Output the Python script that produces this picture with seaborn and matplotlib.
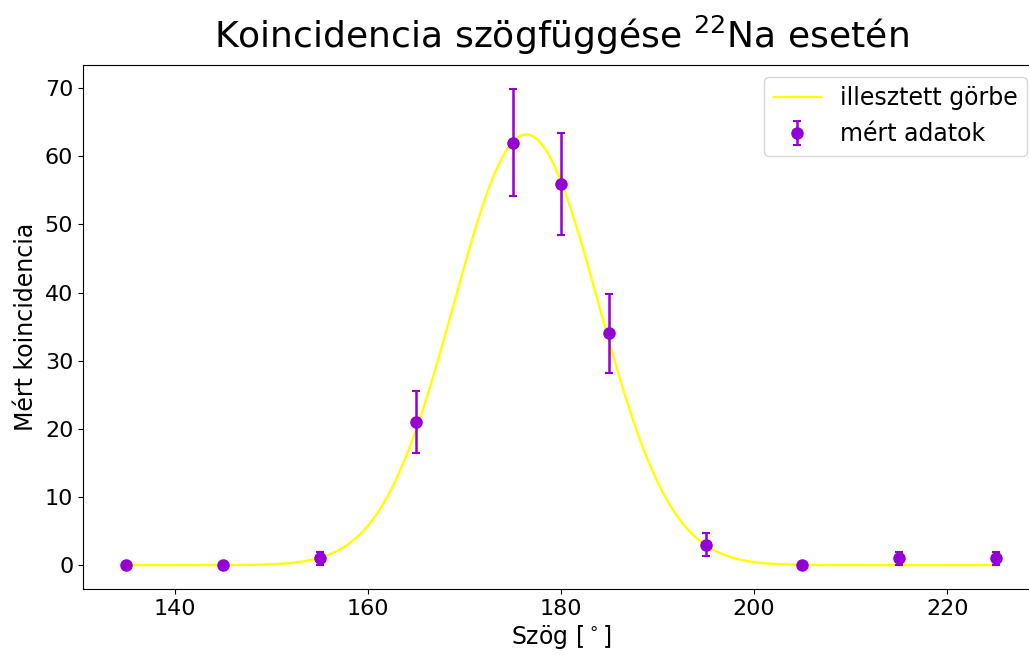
import numpy as np
import pandas as pd
import matplotlib
matplotlib.use("Agg")
import matplotlib.pyplot as plt
import seaborn as sns

# measured data
angles = [135, 145, 155, 165, 175, 180, 185, 195, 205, 215, 225]
counts = [0, 0, 1, 21, 62, 56, 34, 3, 0, 1, 1]
errors = [0.0, 0.0, 1.0, 4.58, 7.87, 7.48, 5.83, 1.73, 0.0, 1.0, 1.0]

# fitted Gaussian parameters
fit_amplitude = 63.2
fit_center = 176.4
fit_sigma = 7.5

fit_x = np.linspace(min(angles), max(angles), 500)
fit_y = fit_amplitude * np.exp(-(fit_x - fit_center) ** 2 / (2 * fit_sigma ** 2))
fit_df = pd.DataFrame({"x": fit_x, "y": fit_y})

W, H = 1029, 655
fig = plt.figure(figsize=(W / 100, H / 100), dpi=100)
ax = fig.add_axes([83 / W, (H - 589) / H, (1039 - 83) / W, (589 - 65) / H])

sns.lineplot(data=fit_df, x="x", y="y", ax=ax, color="yellow", lw=1.7,
             label="illesztett görbe")
ax.errorbar(angles, counts, yerr=errors, fmt="o", color="darkviolet",
            markersize=8, capsize=3, elinewidth=1.8, capthick=1.5,
            label="mért adatok")

ax.set_xlim(130.5, 229.5)
ax.set_ylim(-3.5, 73.4)
ax.set_xticks([140, 160, 180, 200, 220])
ax.set_yticks([0, 10, 20, 30, 40, 50, 60, 70])
ax.tick_params(labelsize=16)
ax.set_xlabel("Szög [$^\\circ$]", fontsize=17, labelpad=3)
ax.set_ylabel("Mért koincidencia", fontsize=17, labelpad=5)
ax.set_title("Koincidencia szögfüggése $^{22}$Na esetén", fontsize=26, pad=12)
ax.legend(loc="upper right", fontsize=17)

fig.savefig("out.png", dpi=100)
